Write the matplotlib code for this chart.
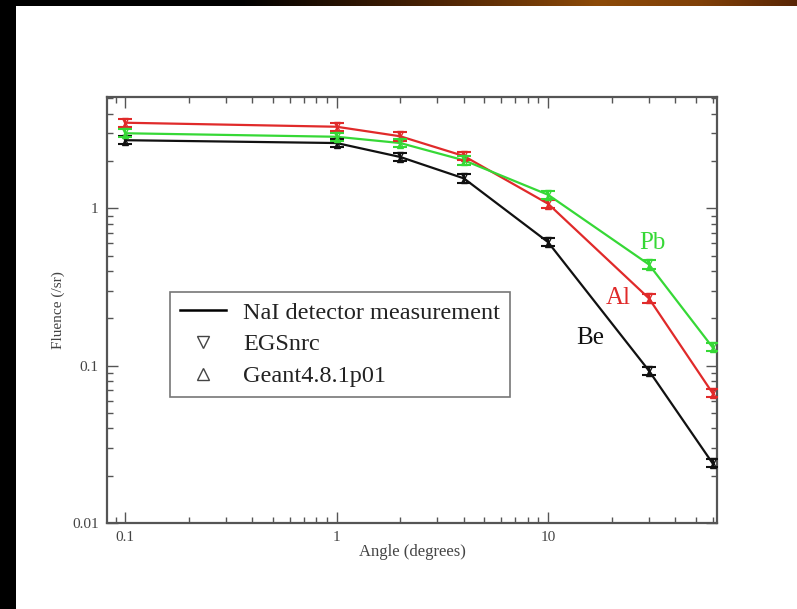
#!/usr/bin/env python3
"""Angular fluence distribution behind Be, Al and Pb targets: NaI data vs. simulations."""

import matplotlib

matplotlib.use("Agg")
import matplotlib.pyplot as plt
import numpy as np
from matplotlib.lines import Line2D
from matplotlib.patches import Rectangle

angles = [0.1, 1, 2, 4, 10, 30, 60]
fluence_be = [2.71, 2.6, 2.12, 1.55, 0.61, 0.093, 0.024]
fluence_al = [3.5, 3.3, 2.87, 2.15, 1.07, 0.268, 0.067]
fluence_pb = [3.0, 2.85, 2.6, 2.02, 1.22, 0.44, 0.131]
rel_err = 0.06

materials = ["Be", "Al", "Pb"]
colors = {"Be": "#111111", "Al": "#e02a2a", "Pb": "#36d836"}
label_pos = {"Be": (15.9, 0.149), "Al": (21.5, 0.271), "Pb": (31.3, 0.6)}

plt.rcParams["font.family"] = ["Liberation Serif", "DejaVu Serif"]

fig = plt.figure(figsize=(7.97, 6.09), dpi=100)
fig.patch.set_facecolor("white")

# dark slide frame: black strip down the left, brown/orange band along the top
fig.patches.append(Rectangle((0, 0), 16 / 797, 1, transform=fig.transFigure,
                             facecolor="black", edgecolor="none", zorder=0))
band = fig.add_axes([0, 1 - 6 / 609, 1, 6 / 609])
grad = np.linspace(0, 1, 400)
stops = [0, 0.3, 0.55, 0.75, 0.88, 1]
r = np.interp(grad, stops, [0, 0, 0.3, 0.55, 0.5, 0.35])
g = np.interp(grad, stops, [0, 0, 0.14, 0.29, 0.25, 0.15])
b = np.interp(grad, stops, [0, 0, 0.02, 0.03, 0.03, 0.02])
band.imshow(np.dstack([r, g, b]), aspect="auto")
band.set_axis_off()

ax = fig.add_axes([107 / 797, 1 - 523 / 609, 610 / 797, 426 / 609])
ax.set_xscale("log")
ax.set_yscale("log")

series = {"Be": fluence_be, "Al": fluence_al, "Pb": fluence_pb}
for name in materials:
    vals = np.array(series[name])
    col = colors[name]
    ax.plot(angles, vals, color=col, lw=1.6, zorder=3)
    ax.errorbar(angles, vals, yerr=vals * rel_err, fmt="none", ecolor=col,
                elinewidth=1.5, capsize=5, capthick=1.5, zorder=4)
    ax.plot(angles, vals * 1.03, ls="none", marker="v", ms=5, mfc="none",
            mec=col, mew=1.0, zorder=4)
    ax.plot(angles, vals * 0.97, ls="none", marker="^", ms=5, mfc="none",
            mec=col, mew=1.0, zorder=4)
    x, y = label_pos[name]
    ax.text(x, y, name, color=col, fontsize=18, ha="center", va="center", zorder=5)

ax.set_xlim(0.082, 63)
ax.set_ylim(0.01, 5.1)

ax.set_xticks([0.1, 1, 10])
ax.set_xticklabels(["0.1", "1", "10"])
ax.set_yticks([0.01, 0.1, 1])
ax.set_yticklabels(["0.01", "0.1", "1"])
ax.tick_params(which="both", direction="in", top=True, right=True,
               color="#555555", labelcolor="#444444", labelsize=11, pad=6)
ax.tick_params(which="major", length=8, width=1.0)
ax.tick_params(which="minor", length=4, width=1.0)
for spine in ax.spines.values():
    spine.set_color("#555555")
    spine.set_linewidth(1.6)

ax.set_xlabel("Angle (degrees)", fontsize=12, color="#444444", labelpad=0)
ax.set_ylabel("Fluence (/sr)", fontsize=11, color="#444444", labelpad=5)

handles = [
    Line2D([], [], color="black", lw=1.8),
    Line2D([], [], ls="none", marker="v", ms=8, mfc="none", mec="#444444"),
    Line2D([], [], ls="none", marker="^", ms=8, mfc="none", mec="#444444"),
]
leg = ax.legend(handles, ["NaI detector measurement", "EGSnrc", "Geant4.8.1p01"],
                loc="upper left", bbox_to_anchor=(63 / 610, 231 / 426),
                fontsize=17.5, frameon=True, fancybox=False, handlelength=1.9,
                handletextpad=0.7, labelspacing=0.4, borderpad=0.4,
                borderaxespad=0)
leg.get_frame().set_edgecolor("#555555")
leg.get_frame().set_linewidth(1.2)
for txt in leg.get_texts():
    txt.set_color("#222222")

fig.savefig("out.png", dpi=100)
